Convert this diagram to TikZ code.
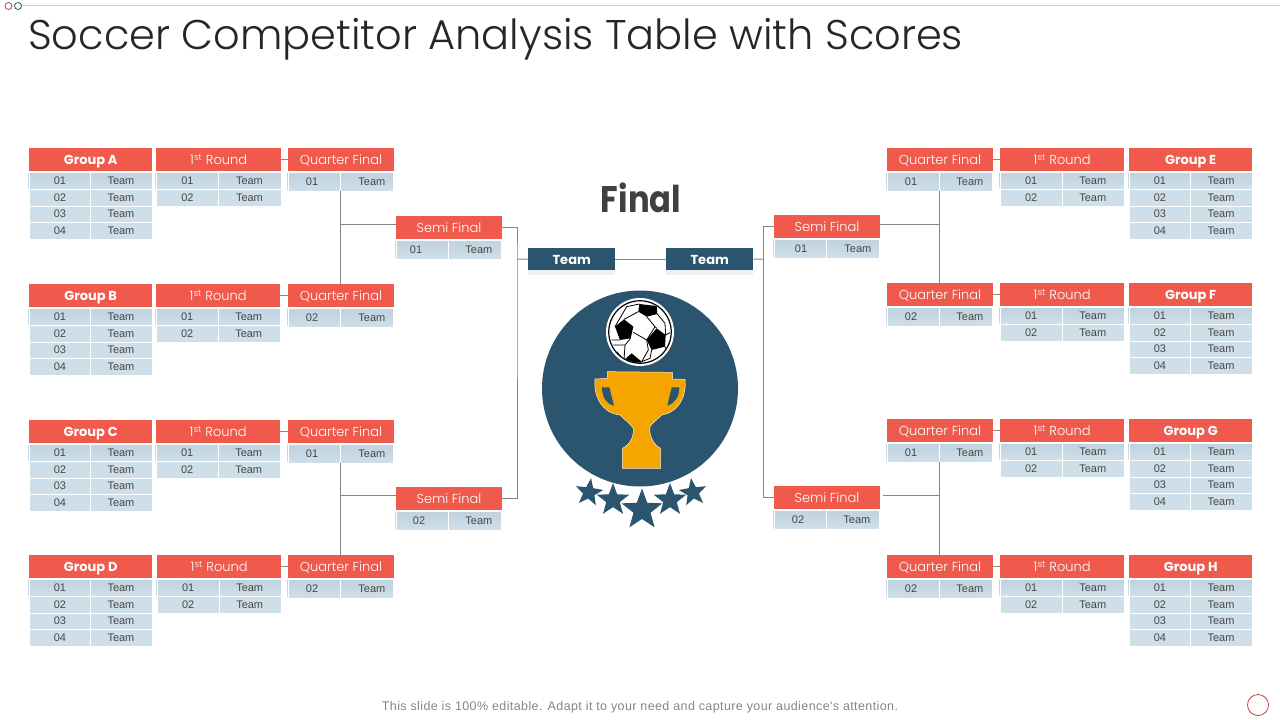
\documentclass[tikz,border=0pt]{standalone}
\usepackage{fontspec}
\usepackage{xcolor}
\usepackage{tikz}
\usetikzlibrary{positioning,calc,shapes.geometric,shadows}
\setmainfont{Liberation Sans}
\newfontfamily\gothic{Poppins}
\newfontfamily\gothiclight{Poppins Light}
\newfontfamily\finalfont[FakeStretch=.87]{Poppins}
\newfontfamily\footfont[LetterSpace=3.2]{Liberation Sans}
\definecolor{headred}{HTML}{EF5A4C}
\definecolor{cellblue}{HTML}{CFDFE9}
\definecolor{cellshade}{HTML}{BFD2DE}
\definecolor{navy}{HTML}{2B556E}
\definecolor{cup}{HTML}{F5A500}
\definecolor{linkgray}{HTML}{858585}
\tikzset{
  headbox/.style={rectangle,fill=headred,text=white,inner sep=0pt,minimum height=23pt,
    text height=11pt,text depth=1pt,font=\gothiclight\fontsize{13}{13}\selectfont,anchor=north west},
  cellbox/.style={rectangle,fill=cellblue,draw=white,line width=.4pt,inner sep=0pt,text=black!72,
    font=\fontsize{11}{11}\selectfont,anchor=north west},
  rowshade1/.style={top color=cellshade,bottom color=cellblue},
  teambox/.style={rectangle,fill=navy,text=white,inner sep=0pt,minimum width=87pt,minimum height=22pt,
    text height=11pt,text depth=1pt,font=\gothic\bfseries\fontsize{13}{13}\selectfont,
    drop shadow={shadow xshift=0pt,shadow yshift=-5pt,opacity=1,fill=black!6}},
  linkline/.style={draw=linkgray,line width=1pt},
  starnode/.style={star,star points=5,star point ratio=2.4,fill=navy,inner sep=0pt},
}
% table with a red head and numbered rows
\newcommand{\scorebox}[6]{
  \node[headbox,minimum width=#4] (#1) at (#2,#3) {#5};
  \foreach \n [count=\i] in {#6} {
    \node[cellbox,rowshade\i/.try,minimum width=#4/2,minimum height=16.75] (#1\i n)
      at ({#2-.5},{#3+24+(\i-1)*16.75}) {\hspace*{1pt}\n};
    \node[cellbox,rowshade\i/.try,minimum width=#4/2,minimum height=16.75] (#1\i t)
      at ({#2+#4/2-.5},{#3+24+(\i-1)*16.75}) {Team};
  }
}
% one row table, the last two values push the texts sideways
\newcommand{\singlebox}[7]{
  \node[headbox,minimum width=105.5] (#1) at (#2,#3) {#4};
  \node[cellbox,rowshade1,minimum width=52.75,minimum height=18.5] (#1n)
    at ({#2-.5},{#3+24}) {\hspace*{#6pt}#5};
  \node[cellbox,rowshade1,minimum width=52.75,minimum height=18.5] (#1t)
    at ({#2+52.25},{#3+24}) {\hspace*{#7pt}Team};
}
\newcommand{\firstround}{1\textsuperscript{st} Round}
\begin{document}
\begin{tikzpicture}[x=1pt,y=-1pt]
  \useasboundingbox (0,0) rectangle (1280,720);
  % top rule and marks
  \coordinate (ruleleft) at (22,5);
  \coordinate (ruleright) at (1280,5);
  \draw[black!20,line width=1pt] (ruleleft) -- (ruleright);
  \node[circle,draw=red!45!gray,line width=.8pt,minimum size=7pt,inner sep=0pt] (markred) at (8.5,6) {};
  \node[circle,draw=navy,line width=.8pt,minimum size=7pt,inner sep=0pt] (markblue) at (18,6) {};
  \node[circle,draw=red!50!gray,line width=.8pt,minimum size=21pt,inner sep=0pt] (markend) at (1258,705) {};
  \node[anchor=base west,inner sep=0pt,text=black!85,font=\gothiclight\fontsize{41.5}{42}\selectfont] (title)
    at (28,49.5) {Soccer Competitor Analysis Table with Scores};
  \node[inner sep=0pt,text=black!75,font=\finalfont\bfseries\fontsize{37}{37}\selectfont] (final) at (641,198) {Final};
  \node[inner sep=0pt,text=black!48,font=\footfont\fontsize{12.5}{12.5}\selectfont] (foot) at (640,707)
    {This slide is 100\% editable. Adapt it to your need and capture your audience's attention.};

  % left groups
  \scorebox{ga}{29}{148}{123}{\gothic\bfseries Group A}{01,02,03,04}
  \scorebox{gb}{29}{284}{123}{\gothic\bfseries Group B}{01,02,03,04}
  \scorebox{gc}{29}{420}{123}{\gothic\bfseries Group C}{01,02,03,04}
  \scorebox{gd}{29}{555}{123}{\gothic\bfseries Group D}{01,02,03,04}
  \scorebox{ra}{156}{148}{125}{\firstround}{01,02}
  \scorebox{rb}{156}{284}{124}{\firstround}{01,02}
  \scorebox{rc}{156}{420}{124}{\firstround}{01,02}
  \scorebox{rd}{157}{555}{124}{\firstround}{01,02}
  \singlebox{qa}{288}{148}{Quarter Final}{01}{-4}{10}
  \singlebox{qb}{288}{284}{Quarter Final}{02}{-4}{10}
  \singlebox{qc}{288}{420}{Quarter Final}{01}{-4}{10}
  \singlebox{qd}{288}{555}{Quarter Final}{02}{-4}{10}
  \singlebox{sa}{396}{216}{Semi Final}{01}{-12}{8}
  \singlebox{sb}{396}{487}{Semi Final}{02}{-6}{8}

  % right groups
  \scorebox{ge}{1129}{148}{123}{\gothic\bfseries Group E}{01,02,03,04}
  \scorebox{gf}{1129}{283}{123}{\gothic\bfseries Group F}{01,02,03,04}
  \scorebox{gg}{1129}{419}{123}{\gothic\bfseries Group G}{01,02,03,04}
  \scorebox{gh}{1129}{555}{123}{\gothic\bfseries Group H}{01,02,03,04}
  \scorebox{re}{1000}{148}{124}{\firstround}{01,02}
  \scorebox{rf}{1000}{283}{124}{\firstround}{01,02}
  \scorebox{rg}{1000}{419}{124}{\firstround}{01,02}
  \scorebox{rh}{1000}{555}{124}{\firstround}{01,02}
  \singlebox{qe}{887}{148}{Quarter Final}{01}{-4}{8}
  \singlebox{qf}{887}{283}{Quarter Final}{02}{-4}{8}
  \singlebox{qg}{887}{419}{Quarter Final}{01}{-4}{8}
  \singlebox{qh}{887}{555}{Quarter Final}{02}{-4}{8}
  \singlebox{se}{774}{215}{Semi Final}{01}{2}{10}
  \singlebox{sg}{774}{486}{Semi Final}{02}{-4}{8}

  % the two finalists
  \node[teambox,anchor=north west] (fa) at (528,248) {Team};
  \node[teambox,anchor=north west] (fb) at (666,248) {Team};

  % connectors
  \coordinate (ja) at (396,224);
  \coordinate (jc) at (396,495);
  \coordinate (je) at (879,224);
  \coordinate (jg) at (883,495);
  \coordinate (barleft) at (517,259);
  \coordinate (barright) at (763.5,259);
  \foreach \from/\to in {ra/qa,rb/qb,rc/qc,rd/qd,qe/re,qf/rf,qg/rg,qh/rh,fa/fb}
    \draw[linkline] (\from.east) -- (\to.west);
  \draw[linkline] (qat.south west) -- (qat.south west |- qb.north);
  \draw[linkline] (qct.south west) -- (qct.south west |- qd.north);
  \draw[linkline] (qet.south west) -- (qet.south west |- qf.north);
  \draw[linkline] (qgt.south west) -- (qgt.south west |- qh.north);
  \draw[linkline] (ja) -- (ja -| qat.south west);
  \draw[linkline] (jc) -- (jc -| qct.south west);
  \draw[linkline] (je) -- (je -| qet.south west);
  \draw[linkline] (jg) -- (jg -| qgt.south west);
  \draw[linkline] (sa.east) -| (barleft) |- (sb.east);
  \draw[linkline] (se.west) -| (barright) |- (sg.west);
  \draw[linkline] (barleft) -- (fa.west);
  \draw[linkline] (barright) -- (fb.east);

  % trophy badge
  \node[circle,fill=navy,minimum size=196pt,inner sep=0pt] (badge) at (640,388.5) {};
  \node[starnode,minimum size=29pt,rotate=-8] (star1) at (589,492.5) {};
  \node[starnode,minimum size=34pt] (star2) at (613,500) {};
  \node[starnode,minimum size=43pt] (star3) at (642,510) {};
  \node[starnode,minimum size=34pt] (star4) at (670,500) {};
  \node[starnode,minimum size=29pt,rotate=8] (star5) at (693,492.5) {};

  \begin{scope}[shift={(590,365)},x=.3333pt,y=-.3333pt]
    \draw[fill=cup,draw=white!80!cup,line width=.5pt]
      (52,20) -- (247,22) -- (248,42) -- (285,43) .. controls (290,80) and (275,140) .. (215,150)
      .. controls (200,165) and (185,175) .. (180,185) .. controls (176,210) and (190,240) .. (212,250)
      -- (212,310) -- (97,310) -- (97,250) .. controls (120,240) and (132,215) .. (130,190)
      .. controls (120,175) and (105,165) .. (90,150) .. controls (40,145) and (10,100) .. (15,42)
      -- (52,40) -- cycle;
    \fill[navy] (35,67) -- (58,67) -- (72,122) .. controls (50,118) and (38,100) .. (35,67) -- cycle;
    \fill[navy] (245,67) -- (268,67) .. controls (268,95) and (255,115) .. (232,122) -- cycle;
  \end{scope}

  \node[circle,fill=white,minimum size=68pt,inner sep=0pt] (ball) at (640,332) {};
  \begin{scope}[shift={(600,295)},x=.3333pt,y=-.3333pt]
    \clip (120,111) circle[radius=92];
    \fill[black] (118,27) -- (170,33) -- (172,57) -- (140,65) -- (115,50) -- cycle;
    \fill[black] (45,95) -- (72,73) -- (100,95) -- (92,130) -- (60,135) -- cycle;
    \fill[black] (140,135) -- (170,100) -- (197,120) -- (195,155) -- (155,165) -- cycle;
    \fill[black] (72,195) -- (95,175) -- (125,200) -- (118,215) -- (85,215) -- cycle;
    \draw[black,line width=.8pt] (115,50) -- (72,73) (140,65) -- (165,95) -- (170,100)
      (165,95) -- (140,135) (140,135) -- (100,112) (92,130) -- (75,150) -- (72,195)
      (140,135) -- (145,165) -- (125,200) (172,57) -- (195,85) -- (197,120) (197,120) -- (212,112)
      (195,155) -- (205,175) (118,27) -- (80,35) -- (45,95) (60,135) -- (35,135)
      (75,150) -- (40,150) (72,195) -- (50,170) (155,165) -- (150,190) -- (125,200);
  \end{scope}
  \node[circle,draw=black,line width=1.2pt,minimum size=62.5pt,inner sep=0pt] (ballrim) at (640,332) {};
\end{tikzpicture}
\end{document}
